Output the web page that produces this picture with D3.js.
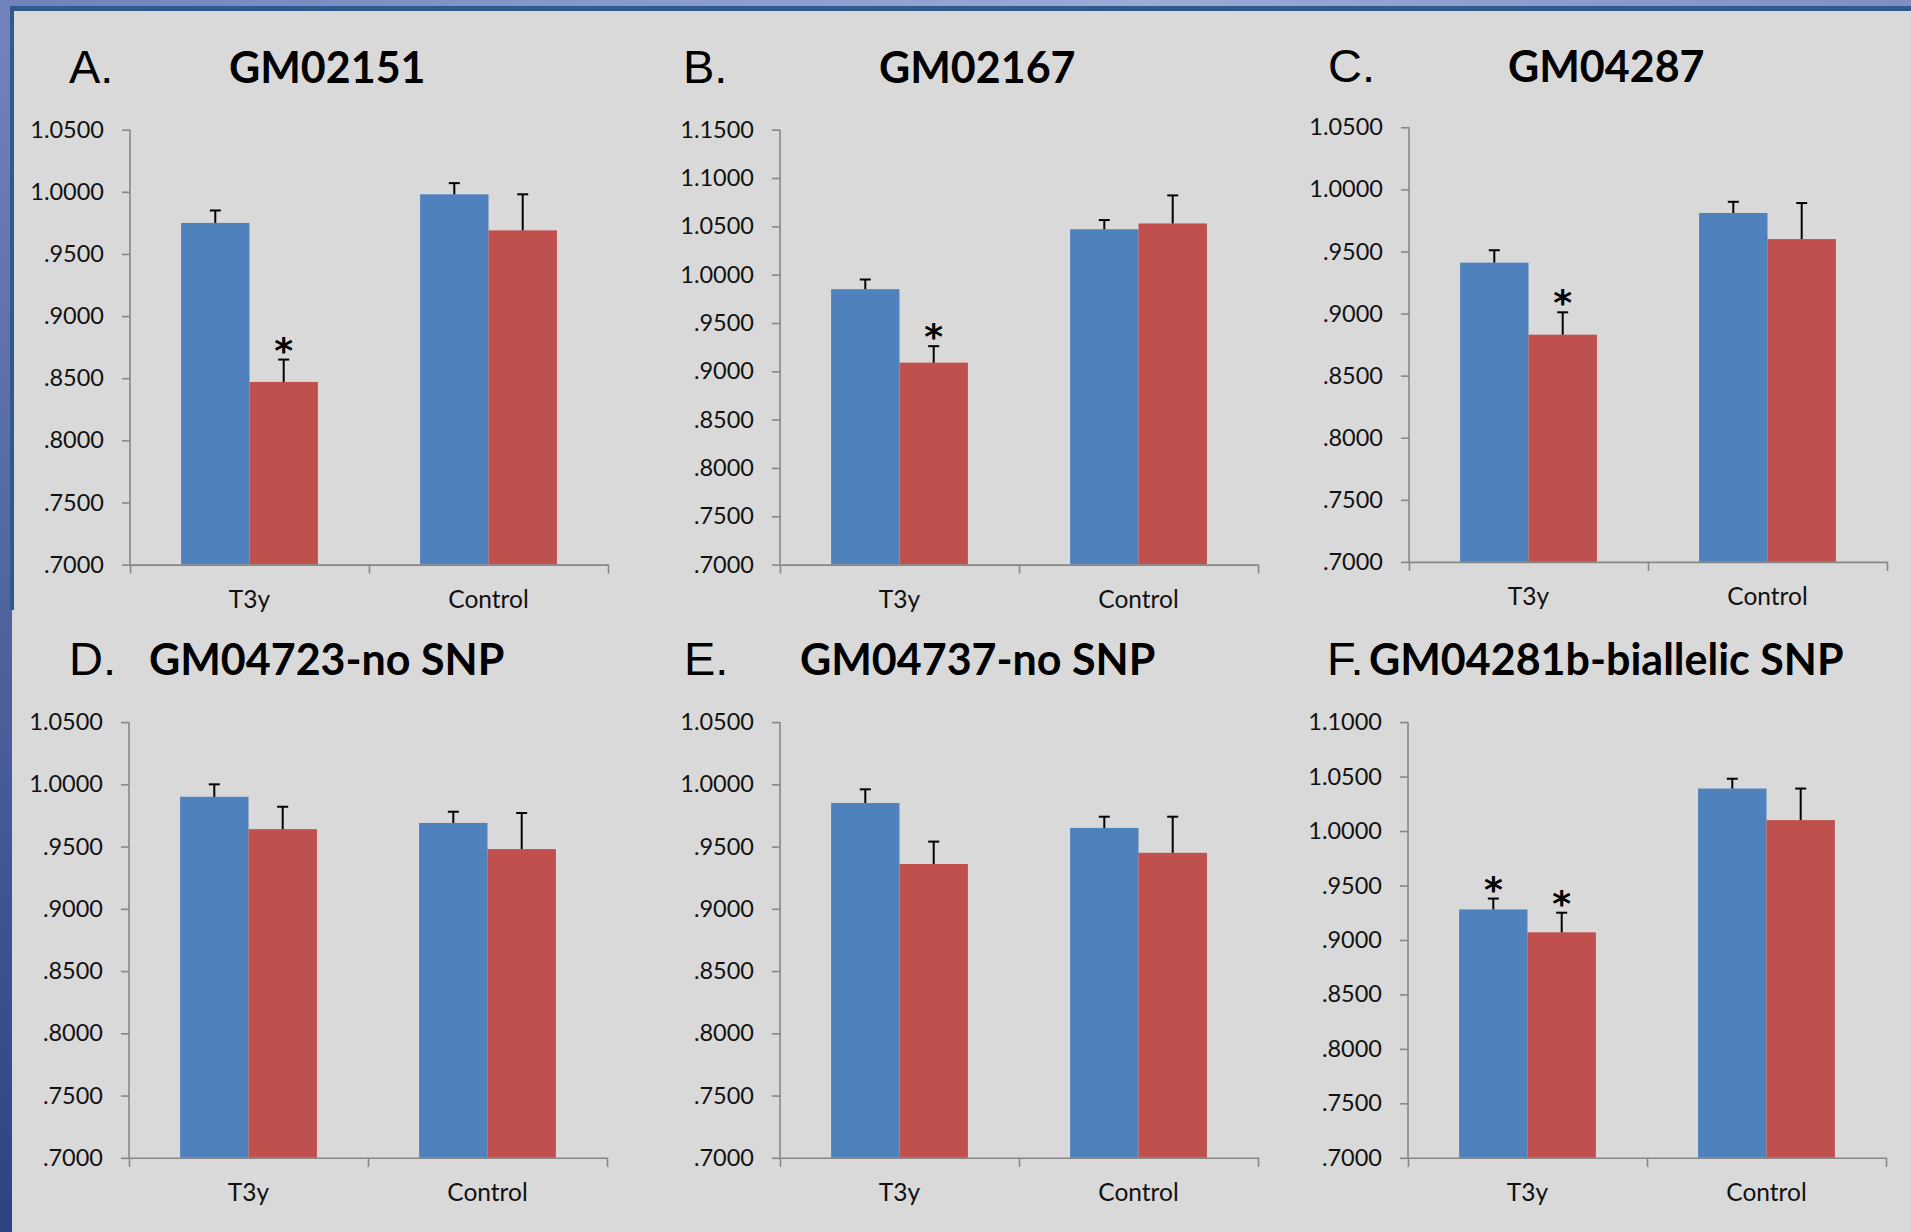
<!DOCTYPE html>
<html>
<head>
<meta charset="utf-8">
<script src="https://cdn.jsdelivr.net/npm/d3@7"></script>
<style>
  body { margin: 0; background: #d9d9d9; }
  svg { display: block; }
  .tick text { font-family: Lato, "Open Sans", sans-serif; font-size: 23.5px; fill: #111; }
  .cat-label { font-family: Lato, "Open Sans", sans-serif; font-size: 24.5px; fill: #111; }
  .letter { font-family: "Liberation Sans", Arial, sans-serif; font-size: 47px; fill: #000; }
  .title { font-family: Lato, "Open Sans", sans-serif; font-weight: 700; font-size: 43px; fill: #000; }
  .star { font-family: "DejaVu Sans", sans-serif; font-weight: 700; font-size: 36px; fill: #000; }
</style>
</head>
<body>
<script>
'use strict';

//#region DATASET
const panelLetters = ['A.', 'B.', 'C.', 'D.', 'E.', 'F.'];
const panelTitles = ['GM02151', 'GM02167', 'GM04287', 'GM04723-no SNP', 'GM04737-no SNP', 'GM04281b-biallelic SNP'];
const categories = ['T3y', 'Control'];
const seriesNames = ['blue', 'red'];

// one row per panel, one value per category
const blueMeans  = [[0.975, 0.998], [0.985, 1.047], [0.941, 0.981], [0.990, 0.969], [0.985, 0.965], [0.928, 1.039]];
const blueErrors = [[0.010, 0.009], [0.010, 0.0095], [0.010, 0.009], [0.010, 0.009], [0.011, 0.009], [0.010, 0.009]];
const redMeans   = [[0.847, 0.969], [0.909, 1.053], [0.883, 0.960], [0.964, 0.948], [0.936, 0.945], [0.907, 1.010]];
const redErrors  = [[0.018, 0.029], [0.017, 0.029], [0.018, 0.029], [0.018, 0.029], [0.018, 0.029], [0.018, 0.029]];
const blueStars  = [[false, false], [false, false], [false, false], [false, false], [false, false], [true, false]];
const redStars   = [[true, false], [true, false], [true, false], [false, false], [false, false], [true, false]];

const yMin = [0.70, 0.70, 0.70, 0.70, 0.70, 0.70];
const yMax = [1.05, 1.15, 1.05, 1.05, 1.05, 1.10];
const yStep = 0.05;
//#endregion DATASET

//#region LAYOUT
const dimensions = { width: 1911, height: 1232 };
const panelLayout = [
  { left: 130,  right: 608,  top: 129.7, bottom: 564.6,  letterX: 69,   titleX: 229,  titleY: 83 },
  { left: 780,  right: 1258, top: 129.7, bottom: 564.6,  letterX: 683,  titleX: 879,  titleY: 83 },
  { left: 1409, right: 1887, top: 127.3, bottom: 561.9,  letterX: 1328, titleX: 1508, titleY: 82 },
  { left: 129,  right: 607,  top: 722.1, bottom: 1157.8, letterX: 69,   titleX: 149,  titleY: 674.6 },
  { left: 780,  right: 1258, top: 722.1, bottom: 1157.8, letterX: 684,  titleX: 800,  titleY: 674.6 },
  { left: 1408, right: 1886, top: 722.1, bottom: 1157.8, letterX: 1327, titleX: 1369, titleY: 674.6 }
];
const colors = { blue: '#4f81bd', red: '#c0504d', axis: '#878787' };
//#endregion LAYOUT

//#region DRAW CANVAS
const svg = d3.select('body').append('svg')
  .attr('width', dimensions.width)
  .attr('height', dimensions.height);

const defs = svg.append('defs');
const topGrad = defs.append('linearGradient').attr('id', 'topband').attr('x1', 0).attr('x2', 1).attr('y1', 0).attr('y2', 0);
topGrad.append('stop').attr('offset', 0).attr('stop-color', '#7182bb');
topGrad.append('stop').attr('offset', 0.6).attr('stop-color', '#9aabd8');
topGrad.append('stop').attr('offset', 1).attr('stop-color', '#7f8fc2');
const leftGrad = defs.append('linearGradient').attr('id', 'leftband').attr('x1', 0).attr('x2', 0).attr('y1', 0).attr('y2', 1);
leftGrad.append('stop').attr('offset', 0).attr('stop-color', '#7384bd');
leftGrad.append('stop').attr('offset', 1).attr('stop-color', '#2c4482');

svg.append('rect').attr('width', dimensions.width).attr('height', dimensions.height).attr('fill', 'url(#leftband)');
svg.append('rect').attr('width', dimensions.width).attr('height', 7).attr('fill', 'url(#topband)');

// upper picture with dark frame
svg.append('rect').attr('x', 10).attr('y', 6).attr('width', dimensions.width - 10).attr('height', 604).attr('fill', '#2f5a8e');
svg.append('rect').attr('x', 14).attr('y', 11).attr('width', dimensions.width - 14).attr('height', 599).attr('fill', '#d9d9d9');
// lower picture
svg.append('rect').attr('x', 12).attr('y', 610).attr('width', dimensions.width - 12).attr('height', dimensions.height - 610).attr('fill', '#d9d9d9');
//#endregion DRAW CANVAS

//#region DRAW PANELS
const fmt = d => (d >= 1 ? d.toFixed(4) : d.toFixed(4).slice(1));

panelTitles.forEach((title, i) => {
  const lay = panelLayout[i];
  const plotW = lay.right - lay.left;
  const plotH = lay.bottom - lay.top;

  const g = svg.append('g').attr('transform', `translate(${lay.left},${lay.top})`);

  const xScale = d3.scaleBand().domain(categories).range([0, plotW]).padding(0);
  const xInner = d3.scaleBand().domain(seriesNames).range([0, xScale.bandwidth()])
    .paddingInner(0).paddingOuter(0.747);
  const yScale = d3.scaleLinear().domain([yMin[i], yMax[i]]).range([plotH, 0]);

  const rows = categories.map((c, j) => ({
    category: c,
    bars: [
      { series: 'blue', mean: blueMeans[i][j], err: blueErrors[i][j], star: blueStars[i][j] },
      { series: 'red', mean: redMeans[i][j], err: redErrors[i][j], star: redStars[i][j] }
    ]
  }));

  const groups = g.selectAll('g.cat').data(rows).join('g')
    .attr('class', 'cat')
    .attr('transform', d => `translate(${xScale(d.category)},0)`);

  const bars = groups.selectAll('g.bar').data(d => d.bars).join('g').attr('class', 'bar');

  bars.append('rect')
    .attr('x', d => xInner(d.series))
    .attr('y', d => yScale(d.mean))
    .attr('width', xInner.bandwidth())
    .attr('height', d => plotH - yScale(d.mean))
    .attr('fill', d => colors[d.series]);

  const cx = d => xInner(d.series) + xInner.bandwidth() / 2;
  bars.append('line')
    .attr('x1', cx).attr('x2', cx)
    .attr('y1', d => yScale(d.mean))
    .attr('y2', d => yScale(d.mean + d.err))
    .attr('stroke', '#000').attr('stroke-width', 2);
  bars.append('line')
    .attr('x1', d => cx(d) - 5.5).attr('x2', d => cx(d) + 5.5)
    .attr('y1', d => yScale(d.mean + d.err))
    .attr('y2', d => yScale(d.mean + d.err))
    .attr('stroke', '#000').attr('stroke-width', 2);

  bars.filter(d => d.star).append('text')
    .attr('class', 'star')
    .attr('x', cx)
    .attr('y', d => yScale(d.mean + d.err) + 3)
    .attr('text-anchor', 'middle')
    .text('*');

  // axes
  const yTicks = d3.range(Math.round((yMax[i] - yMin[i]) / yStep) + 1).map(k => yMin[i] + k * yStep);
  const yAxis = g.append('g')
    .call(d3.axisLeft(yScale).tickValues(yTicks).tickFormat(fmt).tickSize(8).tickPadding(18).tickSizeOuter(0));
  const xAxis = g.append('g')
    .attr('transform', `translate(0,${plotH})`)
    .call(d3.axisBottom(d3.scaleLinear().domain([0, 2]).range([0, plotW]))
      .tickValues([0, 1, 2]).tickSize(9).tickFormat('').tickSizeOuter(0));

  [yAxis, xAxis].forEach(a => {
    a.selectAll('path, line').attr('stroke', colors.axis).attr('stroke-width', 1.6);
  });
  yAxis.select('.domain').attr('d', `M0,0V${plotH}`);

  g.selectAll('text.cat-label').data(categories).join('text')
    .attr('class', 'cat-label')
    .attr('x', d => xScale(d) + xScale.bandwidth() / 2)
    .attr('y', plotH + 43)
    .attr('text-anchor', 'middle')
    .text(d => d);

  // titles
  svg.append('text').attr('class', 'letter')
    .attr('x', lay.letterX).attr('y', lay.titleY)
    .text(panelLetters[i]);
  svg.append('text').attr('class', 'title')
    .attr('x', lay.titleX).attr('y', lay.titleY)
    .text(title);
});
//#endregion DRAW PANELS
</script>
</body>
</html>
